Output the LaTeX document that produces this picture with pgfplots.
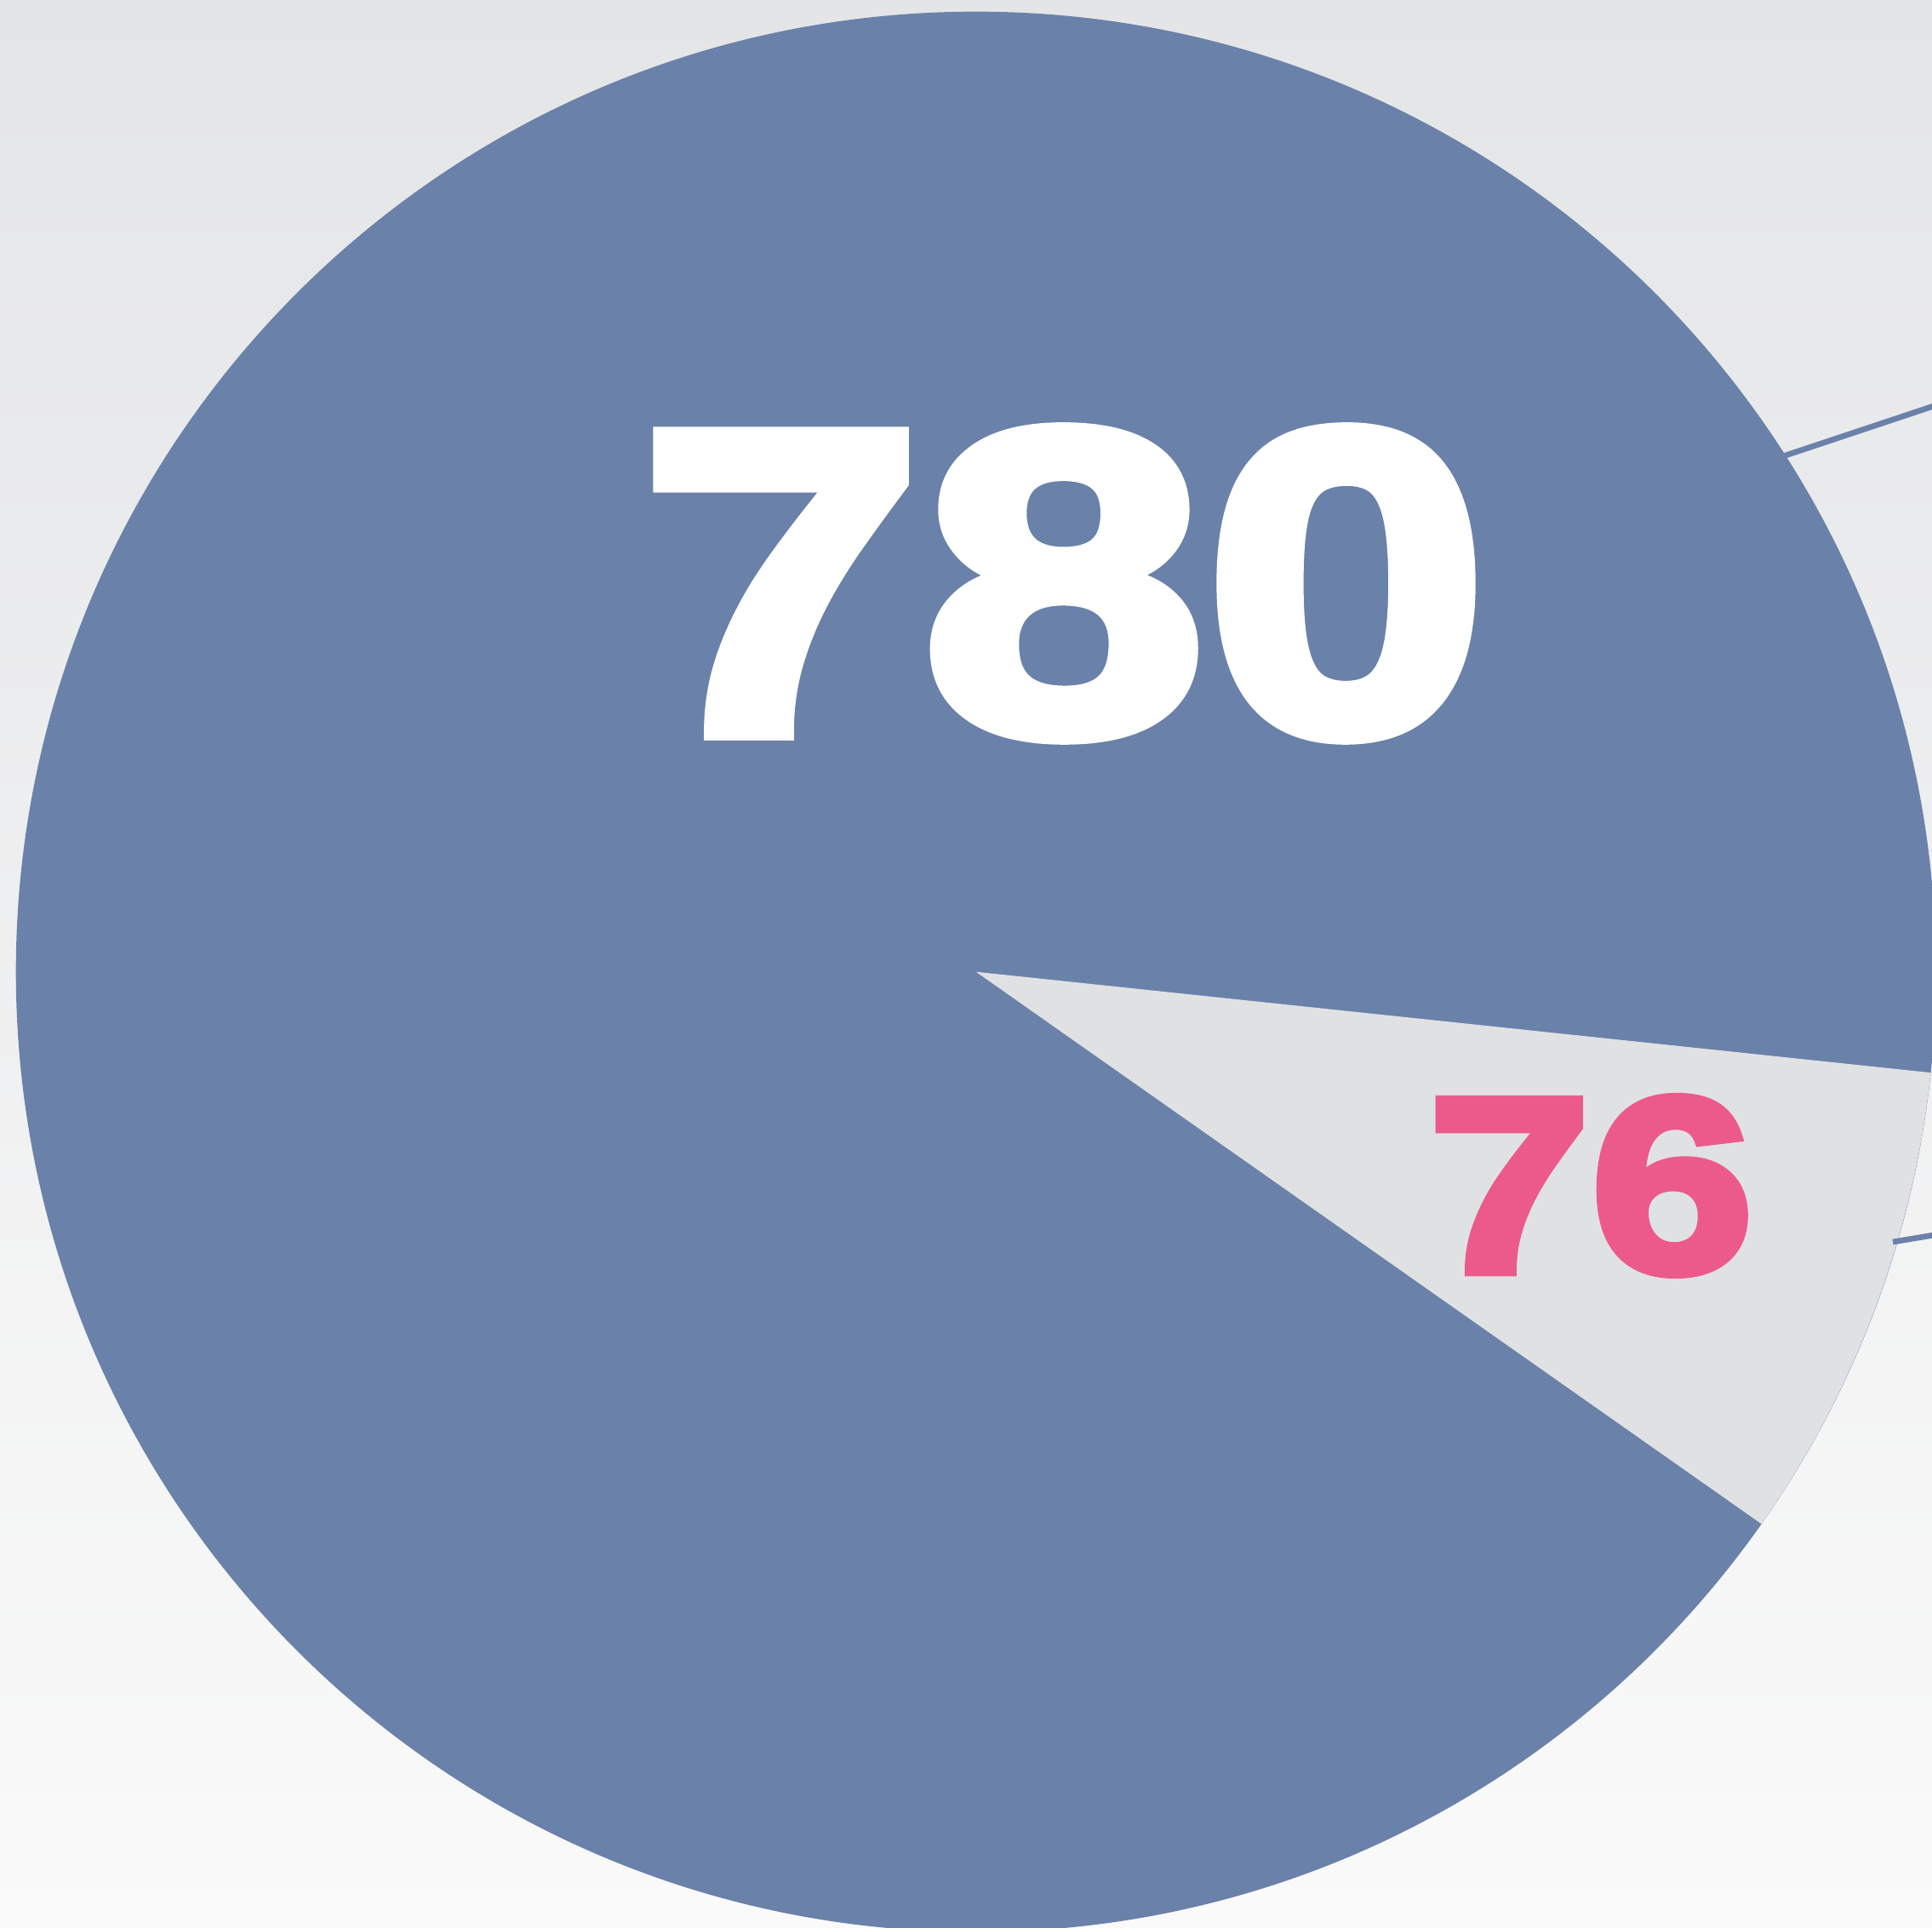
\documentclass[border=0pt]{standalone}
\usepackage{pgfplots}
\pgfplotsset{compat=1.18}
\usepackage{fontspec}
\newfontfamily\heavy{Liberation Sans}[FakeStretch=1.18,FakeBold=4]
\definecolor{pieblue}{HTML}{6A82A9}
\definecolor{piegray}{HTML}{E0E1E3}
\definecolor{labpink}{HTML}{EC5A8C}
\definecolor{bgtop}{HTML}{E4E5E7}
\definecolor{bgbot}{HTML}{FAFAFA}
% pie data (values) and geometry
\def\valA{780}
\def\valB{76}
\def\cx{1146.7}\def\cy{1122.3}
\def\R{11.28cm}
\def\bStart{-35.1}\def\bEnd{-6.03}
\begin{document}
\begin{tikzpicture}
\begin{axis}[
  at={(0,0)}, anchor=south west,
  scale only axis, width=22.7cm, height=22.64cm,
  xmin=0, xmax=2270, ymin=0, ymax=2264,
  hide axis, clip=true]
\fill[top color=bgtop,bottom color=bgbot] (axis cs:0,0) rectangle (axis cs:2270,2264);
\fill[pieblue] (axis cs:\cx,\cy) circle[radius=\R];
\fill[piegray] (axis cs:\cx,\cy) -- ++(\bStart:\R) arc[start angle=\bStart,end angle=\bEnd,radius=\R] -- cycle;
\draw[pieblue, line width=1.9pt] (axis cs:2080,1723) -- (axis cs:2290,1793);
\draw[pieblue, line width=1.9pt] (axis cs:2224,805) -- (axis cs:2290,816);
\node[text=white, font=\heavy\bfseries\fontsize{144}{150}\selectfont, inner sep=0pt] at (axis cs:1250,1578.5) {\valA};
\node[text=labpink, font=\heavy\bfseries\fontsize{83}{86}\selectfont, inner sep=0pt] at (axis cs:1869,871) {\valB};
\end{axis}
\pgfresetboundingbox
\path[use as bounding box] (0,0) rectangle (22.7cm,22.64cm);
\end{tikzpicture}
\end{document}
